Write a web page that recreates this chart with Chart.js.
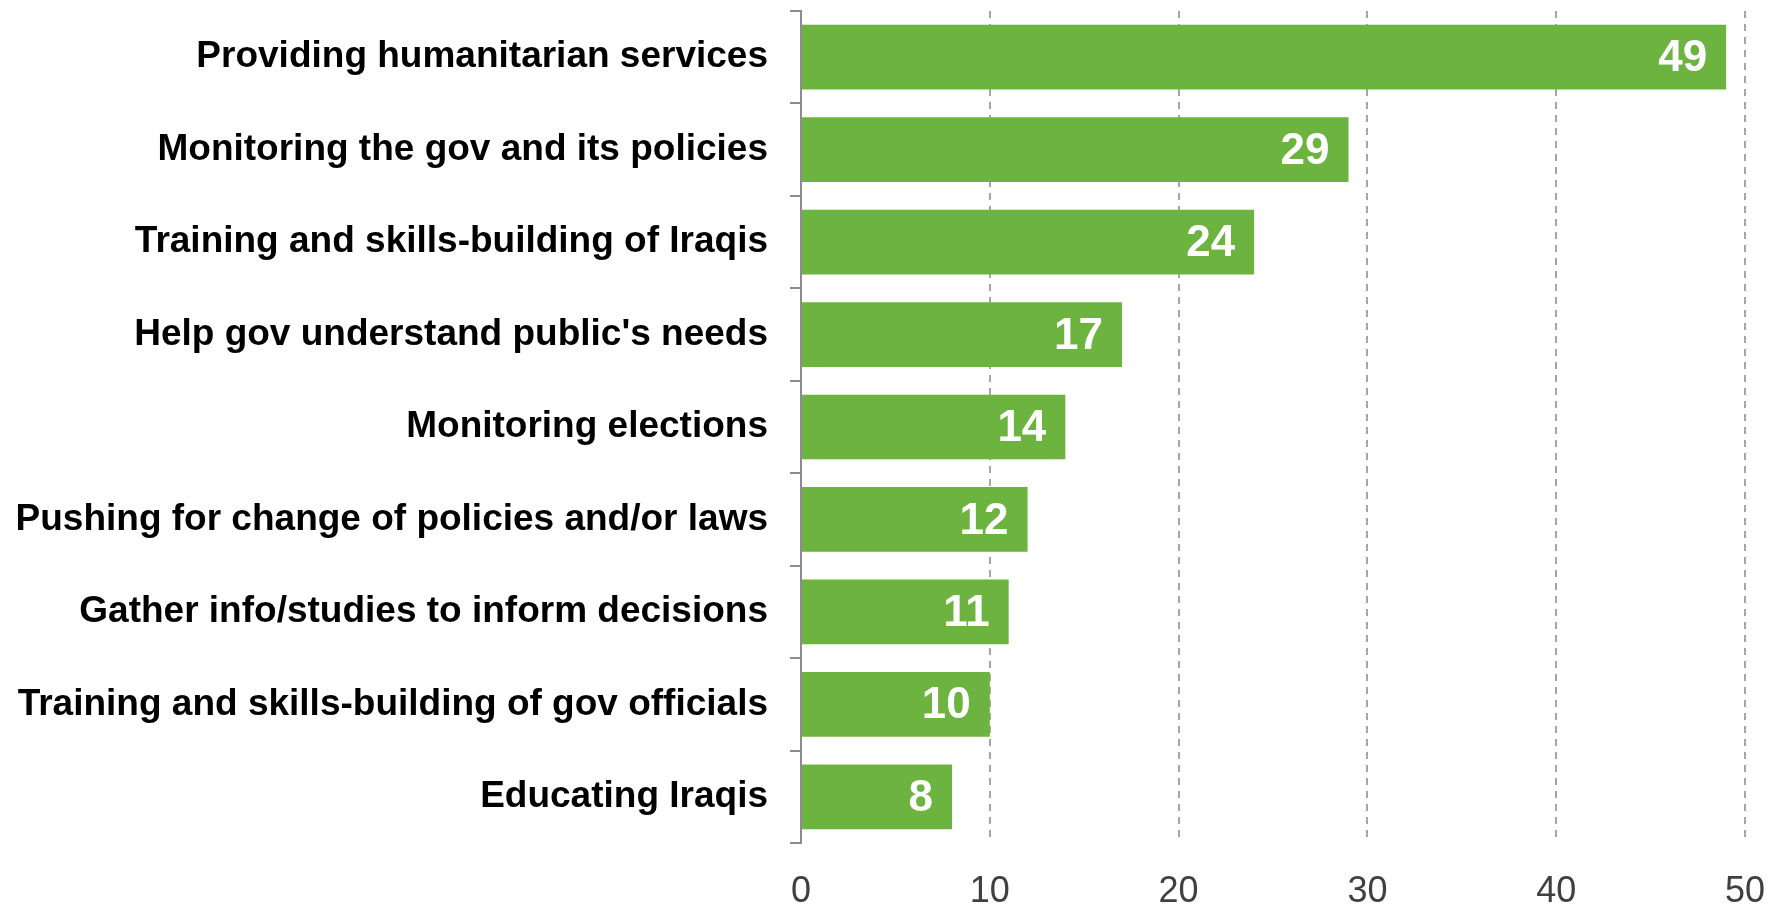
<!DOCTYPE html>
<html>
<head>
<meta charset="utf-8">
<script src="https://cdn.jsdelivr.net/npm/chart.js@4"></script>
<style>
  html, body { margin: 0; padding: 0; background: #fff; }
  #wrap { width: 1775px; height: 905px; }
</style>
</head>
<body>
<div id="wrap"><canvas id="chart" width="1775" height="905"></canvas></div>
<script>
'use strict';

var categories = [
    'Providing humanitarian services',
    'Monitoring the gov and its policies',
    'Training and skills-building of Iraqis',
    "Help gov understand public's needs",
    'Monitoring elections',
    'Pushing for change of policies and/or laws',
    'Gather info/studies to inform decisions',
    'Training and skills-building of gov officials',
    'Educating Iraqis'
];
var values = [49, 29, 24, 17, 14, 12, 11, 10, 8];
var xTicks = [0, 10, 20, 30, 40, 50];

var fontFamily = '"Liberation Sans", Arial, sans-serif';

// white value labels at the end of each bar
var valueLabels = {
    id: 'valueLabels',
    afterDatasetsDraw: function(chart) {
        var ctx = chart.ctx,
            meta = chart.getDatasetMeta(0);
        ctx.save();
        ctx.font = 'bold 44px ' + fontFamily;
        ctx.fillStyle = '#ffffff';
        ctx.textAlign = 'right';
        ctx.textBaseline = 'middle';
        meta.data.forEach(function(bar, i) {
            ctx.fillText(String(values[i]), bar.x - 19, bar.y + 2);
        });
        ctx.restore();
    }
};

new Chart(document.getElementById('chart').getContext('2d'), {
    type: 'bar',
    data: {
        labels: categories,
        datasets: [{
            data: values,
            backgroundColor: '#6db33f',
            borderWidth: 0,
            barPercentage: 0.7,
            categoryPercentage: 1
        }]
    },
    options: {
        indexAxis: 'y',
        responsive: false,
        animation: false,
        layout: { padding: { top: 11, right: 30, left: 0, bottom: 0 } },
        plugins: {
            legend: { display: false },
            tooltip: { enabled: false }
        },
        scales: {
            x: {
                min: 0,
                max: 50,
                afterBuildTicks: function(axis) {
                    axis.ticks = xTicks.map(function(v) { return { value: v }; });
                },
                afterFit: function(axis) {
                    axis.height = 62;
                    axis.paddingLeft = 0;
                    axis.paddingRight = 0;
                },
                border: { display: false, dash: [7, 6] },
                grid: {
                    drawTicks: false,
                    color: function(c) { return c.tick && c.tick.value === 0 ? 'rgba(0,0,0,0)' : '#a6a6a6'; },
                    lineWidth: 2
                },
                ticks: {
                    padding: 27,
                    color: '#404040',
                    font: { family: fontFamily, size: 36 }
                }
            },
            y: {
                afterFit: function(axis) {
                    axis.width = 801;
                    axis.paddingTop = 0;
                    axis.paddingBottom = 0;
                },
                border: { display: true, color: '#8c8c8c', width: 2 },
                grid: {
                    drawOnChartArea: false,
                    drawTicks: true,
                    tickLength: 11,
                    color: '#8c8c8c',
                    lineWidth: 2
                },
                ticks: {
                    padding: 22,
                    color: '#000000',
                    font: { family: fontFamily, size: 37, weight: 'bold' }
                }
            }
        }
    },
    plugins: [valueLabels]
});
</script>
</body>
</html>
